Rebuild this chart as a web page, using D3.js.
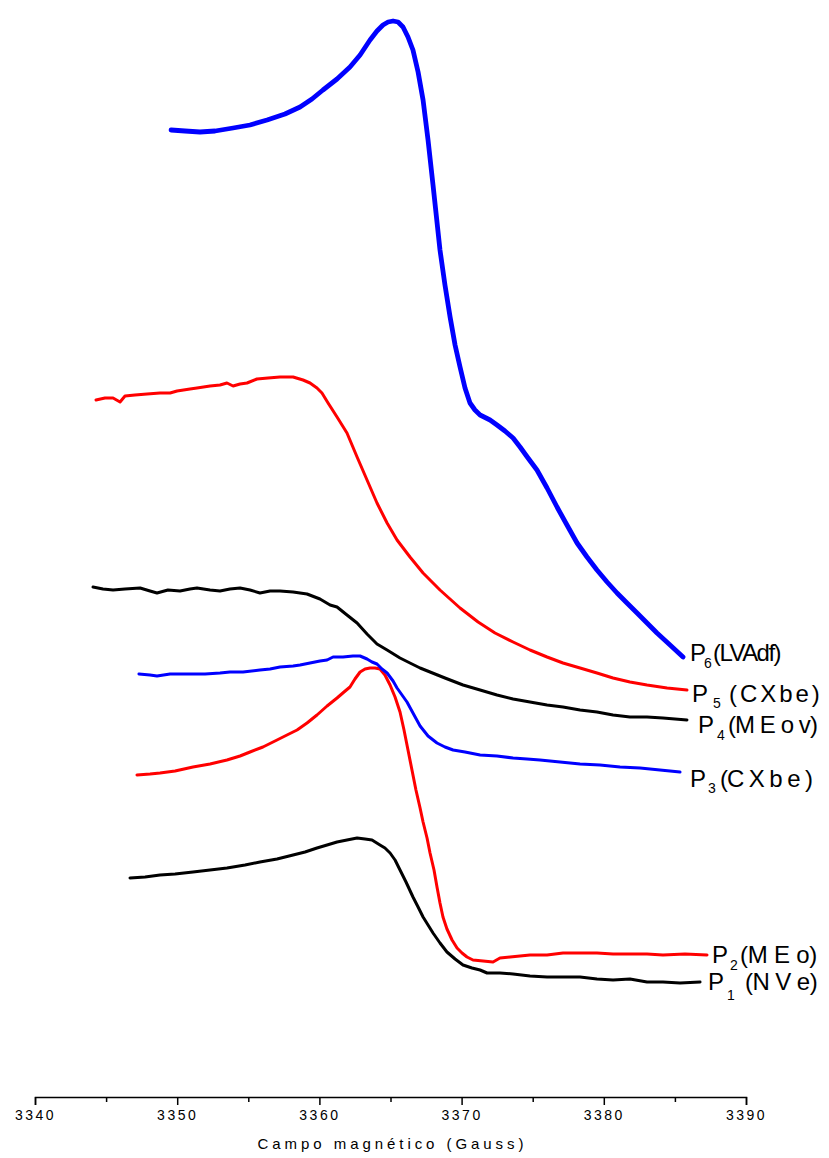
<!DOCTYPE html>
<html>
<head>
<meta charset="utf-8">
<script src="https://cdn.jsdelivr.net/npm/d3@7"></script>
<style>
  body { margin: 0; background: #fff; }
  svg { display: block; font-family: "Liberation Sans", Arial, sans-serif; }
  .axis path, .axis line { stroke: #000; stroke-width: 1.5; }
  .axis text { font-size: 14px; fill: #000; }
  .line { fill: none; stroke-linejoin: round; stroke-linecap: round; }
</style>
</head>
<body>
<script>
// Field (Gauss) and signal (arbitrary units)
var field1 = [3346.68,3347.74,3348.79,3349.85,3351.11,3352.31,3353.50,3354.77,3355.82,3357.02,3358.15,3358.99,3359.83,3360.54,3361.24,3361.94,3362.65,3363.21,3363.70,3364.26,3364.61,3364.97,3365.32,3365.67,3366.09,3366.58,3366.94,3367.29,3367.64,3367.99,3368.48,3368.97,3369.54,3370.10,3370.73,3371.30,3371.79,3372.70,3373.62,3374.81,3376.01,3377.13,3378.33,3379.52,3380.65,3381.84,3383.04,3384.16,3385.36,3386.77];
var signal1 = [21.9,22.0,22.2,22.3,22.5,22.7,22.9,23.2,23.5,23.8,24.2,24.5,24.9,25.2,25.5,25.7,25.9,25.8,25.7,25.2,24.9,24.4,23.7,22.7,21.5,20.0,19.0,18.0,17.2,16.4,15.4,14.5,13.8,13.2,12.9,12.7,12.4,12.4,12.3,12.1,12.0,12.0,12.0,11.8,11.7,11.8,11.5,11.5,11.4,11.5];

var field2 = [3347.17,3348.09,3348.79,3349.85,3351.11,3352.31,3353.50,3354.42,3355.12,3356.03,3357.02,3357.72,3358.43,3359.13,3359.83,3360.54,3361.24,3361.73,3362.15,3362.50,3362.86,3363.21,3363.56,3363.91,3364.26,3364.61,3364.97,3365.32,3365.67,3365.95,3366.23,3366.51,3366.79,3367.08,3367.29,3367.57,3367.78,3368.06,3368.27,3368.48,3368.69,3368.97,3369.33,3369.68,3370.03,3370.38,3370.80,3371.51,3372.21,3372.70,3373.41,3374.81,3376.01,3377.13,3378.33,3379.52,3380.65,3381.84,3383.04,3384.16,3385.71,3387.26];
var signal2 = [32.2,32.3,32.4,32.6,33.0,33.3,33.7,34.1,34.5,35.0,35.7,36.2,36.7,37.4,38.2,39.1,39.9,40.5,41.0,41.8,42.5,42.8,42.9,42.9,42.8,42.2,41.2,40.0,38.5,36.7,34.7,32.7,30.7,28.9,27.5,25.9,24.4,22.7,21.0,19.4,18.0,16.8,15.7,14.9,14.4,14.0,13.7,13.6,13.5,13.9,14.0,14.2,14.2,14.4,14.4,14.4,14.3,14.3,14.3,14.2,14.3,14.2];

var field3 = [3347.31,3348.09,3348.58,3349.50,3350.20,3351.11,3351.96,3353.01,3353.71,3354.63,3355.82,3356.53,3357.23,3358.15,3358.64,3359.34,3360.04,3360.54,3360.96,3361.66,3362.36,3362.86,3363.35,3363.70,3364.05,3364.40,3364.76,3365.18,3365.46,3365.81,3366.16,3366.58,3367.08,3367.64,3368.27,3368.83,3369.40,3370.24,3371.30,3372.49,3373.62,3374.60,3375.51,3376.92,3378.33,3379.73,3381.14,3382.55,3383.95,3385.36];
var signal3 = [42.3,42.2,42.1,42.3,42.3,42.3,42.3,42.4,42.5,42.5,42.7,42.8,43.0,43.1,43.2,43.4,43.6,43.7,44.0,44.0,44.1,44.1,43.8,43.5,43.3,42.8,42.4,41.6,40.9,40.2,39.5,38.4,37.1,36.1,35.4,35.0,34.7,34.5,34.2,34.1,33.9,33.8,33.7,33.5,33.3,33.2,33.0,32.9,32.7,32.5];

var field4 = [3344.08,3344.78,3345.49,3346.33,3347.39,3348.09,3348.58,3349.35,3350.20,3350.90,3351.39,3352.31,3353.01,3353.71,3354.42,3355.12,3355.82,3356.53,3357.23,3358.15,3359.13,3360.04,3360.75,3361.24,3361.94,3362.65,3363.35,3364.05,3364.76,3365.67,3366.37,3367.08,3367.78,3368.83,3370.10,3371.30,3372.49,3373.62,3374.81,3376.01,3377.13,3378.33,3379.52,3380.65,3381.84,3383.04,3384.16,3385.85];
var signal4 = [51.0,50.8,50.7,50.8,50.9,50.6,50.4,50.7,50.6,50.8,50.9,50.7,50.6,50.8,50.9,50.7,50.4,50.6,50.6,50.5,50.3,49.8,49.2,49.0,48.2,47.4,46.3,45.3,44.7,43.9,43.4,42.9,42.5,41.9,41.2,40.7,40.2,39.8,39.5,39.2,39.0,38.7,38.5,38.2,38.0,38.0,37.9,37.7];

var field5 = [3344.29,3344.92,3345.49,3345.98,3346.33,3347.03,3347.88,3348.79,3349.50,3349.99,3350.90,3351.39,3352.31,3353.01,3353.50,3353.93,3354.42,3354.91,3355.61,3356.39,3357.23,3358.15,3358.85,3359.34,3359.83,3360.18,3360.61,3361.24,3361.94,3362.65,3363.35,3364.05,3364.76,3365.46,3366.37,3367.29,3368.48,3369.89,3371.16,3372.35,3373.62,3374.81,3376.01,3377.13,3378.33,3379.52,3380.65,3381.84,3383.04,3384.45,3385.85];
var signal5 = [69.7,69.9,69.9,69.5,70.1,70.2,70.3,70.4,70.4,70.6,70.8,70.9,71.1,71.2,71.4,71.1,71.3,71.4,71.8,71.9,72.0,72.0,71.7,71.4,70.9,70.4,69.4,68.0,66.4,64.0,61.7,59.4,57.4,55.7,54.0,52.4,50.7,48.9,47.5,46.4,45.5,44.7,44.0,43.4,42.9,42.4,41.9,41.5,41.2,40.9,40.7];

var field6 = [3349.57,3350.55,3351.60,3352.66,3353.93,3355.12,3356.32,3357.58,3358.64,3359.48,3360.25,3361.24,3362.15,3362.86,3363.56,3364.05,3364.47,3364.83,3365.18,3365.53,3365.88,3366.23,3366.58,3366.94,3367.29,3367.64,3367.99,3368.48,3368.83,3369.19,3369.54,3369.89,3370.24,3370.59,3370.94,3371.30,3372.00,3372.49,3373.05,3373.62,3374.11,3374.67,3375.30,3376.01,3376.71,3377.41,3378.12,3378.82,3379.52,3380.23,3380.93,3381.63,3382.34,3383.04,3383.74,3384.66,3385.57];
var signal6 = [96.7,96.6,96.5,96.6,96.9,97.2,97.7,98.3,99.0,99.8,100.7,101.8,103.0,104.2,105.7,106.6,107.2,107.5,107.6,107.5,107.0,106.0,104.7,102.5,99.7,95.7,91.2,84.7,81.2,78.0,75.2,73.0,70.9,69.4,68.7,68.2,67.7,67.2,66.6,65.9,65.0,63.9,62.7,60.9,59.0,57.2,55.4,54.0,52.7,51.5,50.4,49.4,48.4,47.4,46.4,45.2,44.0];

var sampleIds = ["1", "2", "3", "4", "5", "6"];
var sampleNames = ["(N V e)", "(M E o)", "(C X b e )", "(M E o v)", "( C X b e )", "(LVAdf)"];
var majorTicks = [3340, 3350, 3360, 3370, 3380, 3390];
var minorTicks = [3345, 3355, 3365, 3375, 3385];

var fields = [field1, field2, field3, field4, field5, field6];
var signals = [signal1, signal2, signal3, signal4, signal5, signal6];

var colors = ["#000000", "#ff0000", "#0000ff", "#000000", "#ff0000", "#0000ff"];
var widths = [3, 3, 3, 3, 3, 4.8];
// label layout: offsets from the last point, sub/name offsets from "P"
var labelPos = [
  {dx: 8,  dy: 8,  sx: 19, sy: 10, nx: 37, nw: 72},
  {dx: 5,  dy: 8,  sx: 18, sy: 7,  nx: 28, nw: 77},
  {dx: 10, dy: 15, sx: 18, sy: 6,  nx: 30, nw: 92},
  {dx: 11, dy: 13, sx: 19, sy: 7,  nx: 30, nw: 89},
  {dx: 5,  dy: 12, sx: 21, sy: 6,  nx: 37, nw: 89},
  {dx: 7,  dy: 4,  sx: 14, sy: 7,  nx: 23, nw: 67}
];

var svg = d3.select("body").append("svg")
    .attr("width", 829)
    .attr("height", 1158);

var x = d3.scaleLinear().domain([3340, 3390]).range([35, 746]);
var y = d3.scaleLinear().domain([0, 110]).range([1097, -3]);

var series = sampleIds.map(function(id, i) {
  return {
    id: id,
    name: sampleNames[i],
    values: fields[i].map(function(f, j) { return {field: f, signal: signals[i][j]}; })
  };
});

var line = d3.line()
    .x(function(d) { return x(d.field); })
    .y(function(d) { return y(d.signal); });

svg.selectAll(".line")
  .data(series)
  .enter().append("path")
    .attr("class", "line")
    .attr("d", function(d) { return line(d.values); })
    .style("stroke", function(d, i) { return colors[i]; })
    .style("stroke-width", function(d, i) { return widths[i]; });

// labels at the end of each curve
var label = svg.selectAll(".label")
  .data(series)
  .enter().append("g")
    .attr("class", "label")
    .attr("transform", function(d, i) {
      var last = d.values[d.values.length - 1];
      return "translate(" + (x(last.field) + labelPos[i].dx) + "," + (y(last.signal) + labelPos[i].dy) + ")";
    });

label.append("text")
    .style("font-size", "24px")
    .text("P");
label.append("text")
    .attr("x", function(d, i) { return labelPos[i].sx; })
    .attr("y", function(d, i) { return labelPos[i].sy; })
    .style("font-size", "14px")
    .text(function(d) { return d.id; });
label.append("text")
    .attr("x", function(d, i) { return labelPos[i].nx; })
    .style("font-size", "24px")
    .text(function(d) { return d.name; })
    .each(function(d, i) {
      // squeeze the name to the width it has in the original
      var w = this.getComputedTextLength();
      d3.select(this).style("letter-spacing", ((labelPos[i].nw - w) / d.name.length) + "px");
    });

// x axis
var axis = svg.append("g")
    .attr("class", "axis")
    .attr("transform", "translate(0,1097)");
axis.call(d3.axisBottom(x).tickValues(majorTicks).tickSize(8).tickPadding(5).tickFormat(d3.format("d")));
axis.append("g")
    .call(d3.axisBottom(x).tickValues(minorTicks).tickSize(5).tickFormat(""))
    .select(".domain").remove();
axis.selectAll("text")
    .style("letter-spacing", "2.5px")
    .style("font-family", "'Liberation Sans', Arial, sans-serif");

svg.append("text")
    .attr("x", (35 + 746) / 2)
    .attr("y", 1149)
    .attr("text-anchor", "middle")
    .attr("textLength", 266)
    .attr("lengthAdjust", "spacing")
    .style("font-size", "15px")
    .text("Campo magnético (Gauss)");
</script>
</body>
</html>
